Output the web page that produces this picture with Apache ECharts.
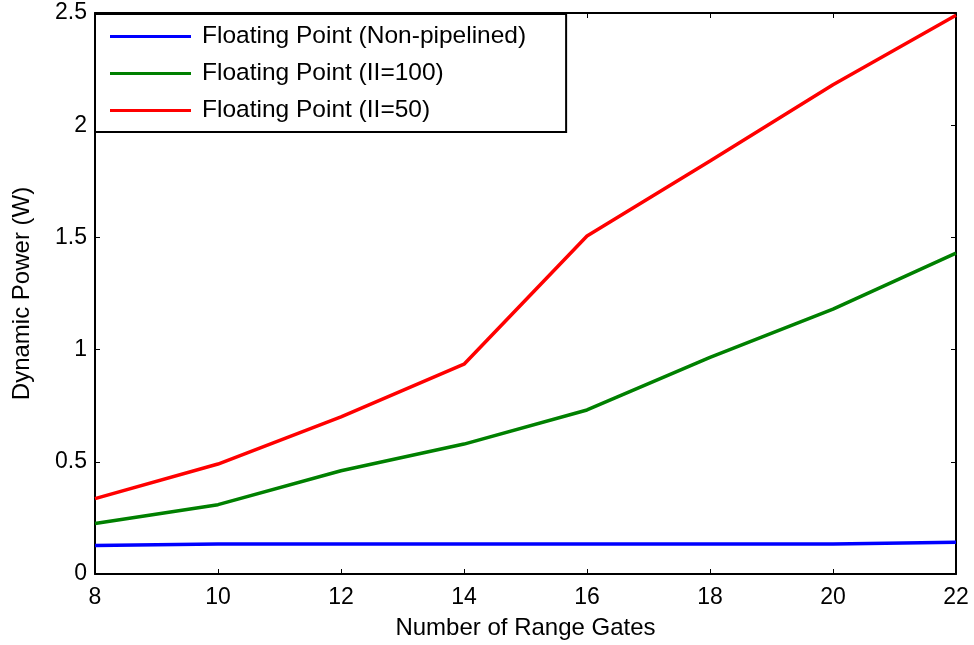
<!DOCTYPE html>
<html>
<head>
<meta charset="utf-8">
<script src="https://cdn.jsdelivr.net/npm/echarts@6/dist/echarts.min.js"></script>
<style>
  html, body { margin: 0; padding: 0; background: #fff; }
  #chart { width: 974px; height: 645px; }
</style>
</head>
<body>
<div id="chart"></div>
<script>
// Range-gate counts on the x axis
const rangeGates = [8, 10, 12, 14, 16, 18, 20, 22];

// Dynamic power (W) for each implementation
const nonPipelined = [0.127, 0.134, 0.134, 0.134, 0.134, 0.134, 0.134, 0.142];
const ii100 = [0.225, 0.309, 0.46, 0.579, 0.731, 0.965, 1.18, 1.43];
const ii50 = [0.336, 0.49, 0.70, 0.935, 1.506, 1.84, 2.18, 2.49];

const seriesNames = [
  'Floating Point (Non-pipelined)',
  'Floating Point (II=100)',
  'Floating Point (II=50)'
];
const seriesColors = ['#0000ff', '#008000', '#ff0000'];

const FONT = 'Liberation Sans, Arial, Helvetica, sans-serif';

function pairs(values) {
  return rangeGates.map((g, i) => [g, values[i]]);
}

const chart = echarts.init(document.getElementById('chart'), null, { renderer: 'canvas' });

const frameAxisX = {
  type: 'value', min: 8, max: 22, interval: 2,
  axisLine: { show: true, onZero: false, lineStyle: { color: '#000', width: 2 } },
  axisTick: { show: true, inside: true, length: 5, lineStyle: { color: '#000', width: 1 } },
  splitLine: { show: false }
};
const frameAxisY = {
  type: 'value', min: 0, max: 2.5, interval: 0.5,
  axisLine: { show: true, onZero: false, lineStyle: { color: '#000', width: 2 } },
  axisTick: { show: true, inside: true, length: 5, lineStyle: { color: '#000', width: 1 } },
  splitLine: { show: false }
};

chart.setOption({
  animation: false,
  backgroundColor: '#fff',
  grid: { left: 95, right: 18, top: 13, bottom: 71, containLabel: false, outerBoundsMode: 'none' },
  xAxis: [
    Object.assign({}, frameAxisX, {
      position: 'bottom',
      name: 'Number of Range Gates',
      nameLocation: 'middle',
      nameGap: 42,
      nameTextStyle: { fontFamily: FONT, fontSize: 24, color: '#000' },
      axisLabel: { show: true, fontFamily: FONT, fontSize: 23, color: '#000', margin: 12 }
    }),
    Object.assign({}, frameAxisX, { position: 'top', axisLabel: { show: false } })
  ],
  yAxis: [
    Object.assign({}, frameAxisY, {
      position: 'left',
      name: 'Dynamic Power (W)',
      nameLocation: 'middle',
      nameGap: 61,
      nameTextStyle: { fontFamily: FONT, fontSize: 24, color: '#000' },
      axisLabel: {
        show: true, fontFamily: FONT, fontSize: 23, color: '#000', margin: 8,
        formatter: v => String(v)
      }
    }),
    Object.assign({}, frameAxisY, { position: 'right', axisLabel: { show: false } })
  ],
  legend: {
    left: 95,
    top: 14,
    orient: 'vertical',
    icon: 'rect',
    itemWidth: 81,
    itemHeight: 3,
    itemGap: 12,
    padding: [10, 40, 9, 15],
    borderColor: '#000',
    borderWidth: 2,
    backgroundColor: '#fff',
    textStyle: { fontFamily: FONT, fontSize: 24.5, color: '#000', lineHeight: 24, padding: [0, 0, 0, 6] },
    data: seriesNames
  },
  series: [nonPipelined, ii100, ii50].map((vals, i) => ({
    name: seriesNames[i],
    type: 'line',
    xAxisIndex: 0,
    yAxisIndex: 0,
    data: pairs(vals),
    showSymbol: false,
    symbol: 'none',
    lineStyle: { color: seriesColors[i], width: 3.5 },
    itemStyle: { color: seriesColors[i] },
    z: 3
  }))
});
</script>
</body>
</html>
